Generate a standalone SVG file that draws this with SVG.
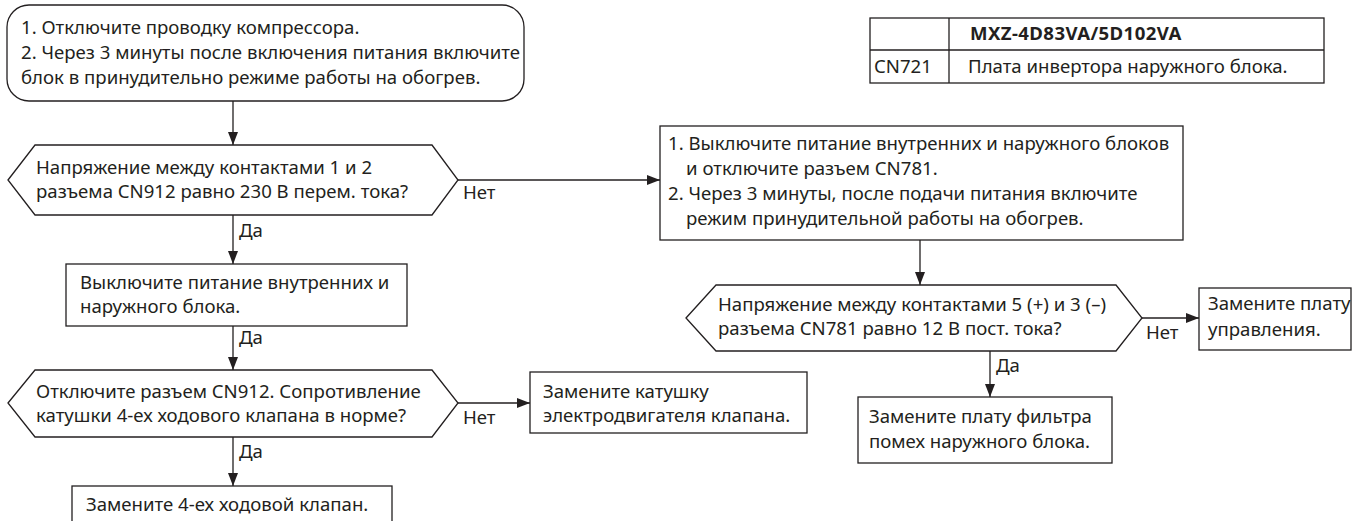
<svg xmlns="http://www.w3.org/2000/svg" width="1356" height="521" viewBox="0 0 1356 521">
<style>
.s{fill:#fff;stroke:#231f20;stroke-width:1.3}
.t{font-family:"Noto Sans","Open Sans",sans-serif;font-size:18.6px;fill:#231f20}
.b{font-weight:bold;letter-spacing:0.4px}
.c{fill:none;stroke:#231f20;stroke-width:1.3}
</style>
<defs>
<marker id="ah" markerUnits="userSpaceOnUse" markerWidth="14" markerHeight="10" refX="13" refY="5" orient="auto">
<path d="M0,0 L13,5 L0,10 z" fill="#231f20"/>
</marker>
</defs>
<rect width="1356" height="521" fill="#fff"/>
<g id="connectors">
<line class="c" x1="233" y1="101" x2="233" y2="145" marker-end="url(#ah)"/>
<line class="c" x1="233" y1="215" x2="233" y2="264" marker-end="url(#ah)"/>
<line class="c" x1="233" y1="326" x2="233" y2="370" marker-end="url(#ah)"/>
<line class="c" x1="233" y1="437" x2="233" y2="486" marker-end="url(#ah)"/>
<line class="c" x1="458" y1="180" x2="660" y2="180" marker-end="url(#ah)"/>
<line class="c" x1="458" y1="403" x2="530" y2="403" marker-end="url(#ah)"/>
<line class="c" x1="920" y1="240" x2="920" y2="285" marker-end="url(#ah)"/>
<line class="c" x1="1142" y1="318" x2="1199" y2="318" marker-end="url(#ah)"/>
<line class="c" x1="990" y1="351" x2="990" y2="397" marker-end="url(#ah)"/>
<text class="t" x="239" y="237">Да</text>
<text class="t" x="239" y="344">Да</text>
<text class="t" x="239" y="458">Да</text>
<text class="t" x="463" y="199">Нет</text>
<text class="t" x="463" y="424">Нет</text>
<text class="t" x="1146" y="339">Нет</text>
<text class="t" x="996" y="372">Да</text>
</g>
<g id="start">
<rect class="s" x="7" y="5" width="517" height="96" rx="22" ry="22"/>
<text class="t" x="21" y="34">1. Отключите проводку компрессора.</text>
<text class="t" x="21" y="59">2. Через 3 минуты после включения питания включите</text>
<text class="t" x="21" y="84">блок в принудительно режиме работы на обогрев.</text>
</g>
<g id="q1">
<polygon class="s" points="8,180 35,145 432,145 458,180 432,215 35,215"/>
<text class="t" x="36" y="174">Напряжение между контактами 1 и 2</text>
<text class="t" x="36" y="198">разъема CN912 равно 230 В перем. тока?</text>
</g>
<g id="a1">
<rect class="s" x="66" y="264" width="341" height="62"/>
<text class="t" x="80" y="289">Выключите питание внутренних и</text>
<text class="t" x="80" y="313">наружного блока.</text>
</g>
<g id="q2">
<polygon class="s" points="8,403 35,370 432,370 458,403 432,437 35,437"/>
<text class="t" x="36" y="398">Отключите разъем CN912. Сопротивление</text>
<text class="t" x="36" y="422">катушки 4-ех ходового клапана в норме?</text>
</g>
<g id="a2">
<rect class="s" x="530" y="372" width="277" height="61"/>
<text class="t" x="543" y="398">Замените катушку</text>
<text class="t" x="543" y="422">электродвигателя клапана.</text>
</g>
<g id="a3">
<rect class="s" x="72" y="486" width="320" height="50"/>
<text class="t" x="86" y="511">Замените 4-ех ходовой клапан.</text>
</g>
<g id="b1">
<rect class="s" x="660" y="126" width="523" height="114"/>
<text class="t" x="668" y="150">1. Выключите питание внутренних и наружного блоков</text>
<text class="t" x="686" y="175">и отключите разъем CN781.</text>
<text class="t" x="668" y="200">2. Через 3 минуты, после подачи питания включите</text>
<text class="t" x="686" y="225">режим принудительной работы на обогрев.</text>
</g>
<g id="q3">
<polygon class="s" points="686,318 716,285 1116,285 1142,318 1116,351 716,351"/>
<text class="t" x="718" y="311">Напряжение между контактами 5 (+) и 3 (–)</text>
<text class="t" x="718" y="335">разъема CN781 равно 12 В пост. тока?</text>
</g>
<g id="b2">
<rect class="s" x="1199" y="288" width="152" height="62"/>
<text class="t" x="1208" y="310">Замените плату</text>
<text class="t" x="1208" y="336">управления.</text>
</g>
<g id="b3">
<rect class="s" x="858" y="397" width="254" height="66"/>
<text class="t" x="869" y="423">Замените плату фильтра</text>
<text class="t" x="869" y="448">помех наружного блока.</text>
</g>
<g id="table">
<rect class="s" x="870" y="18" width="454" height="65"/>
<line class="c" x1="870" y1="50" x2="1324" y2="50"/>
<line class="c" x1="949" y1="18" x2="949" y2="83"/>
<text class="t b" x="970" y="40">MXZ-4D83VA/5D102VA</text>
<text class="t" x="874" y="73">CN721</text>
<text class="t" x="968" y="73">Плата инвертора наружного блока.</text>
</g>
</svg>
